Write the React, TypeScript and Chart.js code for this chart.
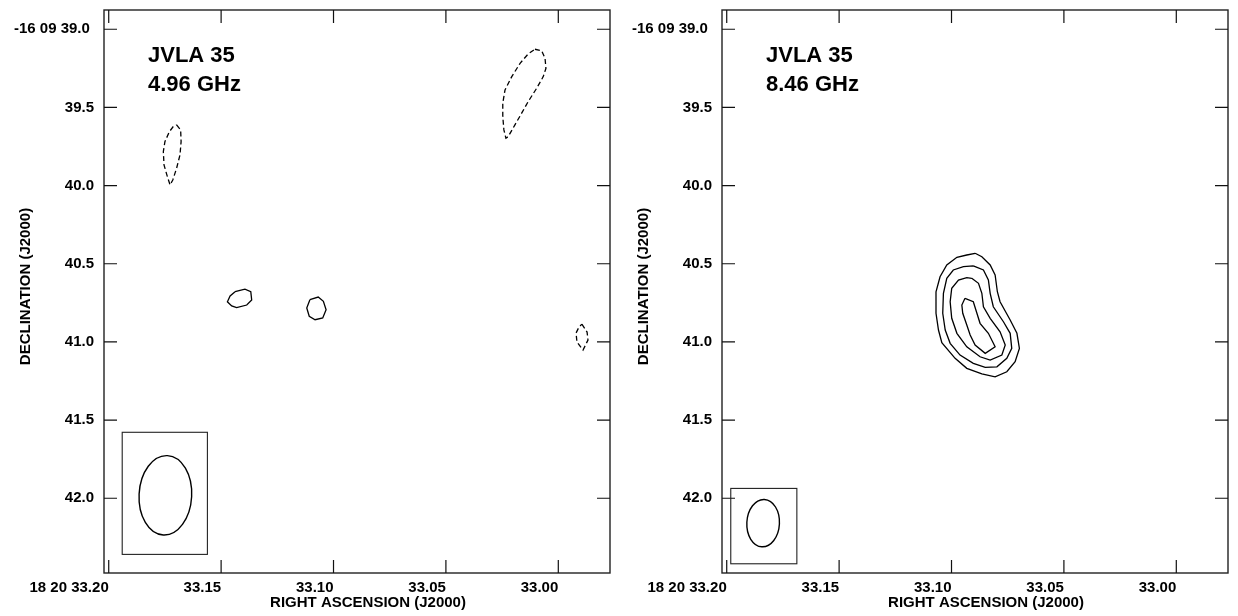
import React, { useEffect, useRef } from "react";
import { Chart, registerables } from "chart.js";

Chart.register(...registerables);

// ---- axes ----
const raTicks = [33.2, 33.15, 33.1, 33.05, 33.0];
const decTicks = [39.0, 39.5, 40.0, 40.5, 41.0, 41.5, 42.0];
const raMin = 32.977;
const raMax = 33.2021;
const decMin = 38.877;
const decMax = 42.478;
const raTitle = "RIGHT ASCENSION (J2000)";
const decTitle = "DECLINATION (J2000)";

// ---- 4.96 GHz contours (RA s, Dec arcsec) ----
const c5NegARa = [33.1698, 33.168, 33.1678, 33.1683, 33.1698, 33.1715, 33.1727, 33.1739, 33.1754, 33.1757, 33.175, 33.173, 33.1713];
const c5NegADec = [39.612, 39.644, 39.719, 39.804, 39.889, 39.964, 39.996, 39.943, 39.868, 39.783, 39.719, 39.655, 39.623];
const c5NegBRa = [33.0104, 33.0074, 33.0059, 33.0055, 33.0067, 33.0096, 33.0134, 33.0163, 33.0193, 33.0223, 33.0233, 33.0242, 33.0247, 33.0247, 33.0237, 33.0207, 33.017, 33.0134];
const c5NegBDec = [39.128, 39.137, 39.186, 39.25, 39.303, 39.377, 39.463, 39.537, 39.612, 39.687, 39.697, 39.644, 39.559, 39.473, 39.388, 39.303, 39.218, 39.158];
const c5PosCRa = [33.1438, 33.1394, 33.1368, 33.1364, 33.1386, 33.1431, 33.1453, 33.1472, 33.146];
const c5PosCDec = [40.679, 40.663, 40.679, 40.732, 40.764, 40.781, 40.77, 40.743, 40.706];
const c5PosDRa = [33.1105, 33.1068, 33.1045, 33.1033, 33.1048, 33.1082, 33.1108, 33.1119];
const c5PosDDec = [40.73, 40.713, 40.74, 40.794, 40.847, 40.858, 40.836, 40.783];
const c5NegERa = [32.9895, 32.9872, 32.9868, 32.989, 32.9917, 32.9921, 32.9908];
const c5NegEDec = [40.886, 40.937, 40.988, 41.052, 41.001, 40.943, 40.905];

// ---- 8.46 GHz contours ----
const c8Lev1Ra = [33.0895, 33.0865, 33.0828, 33.0806, 33.0796, 33.0784, 33.0739, 33.0709, 33.0698, 33.0717, 33.0754, 33.0806, 33.0865, 33.0932, 33.0984, 33.1043, 33.1058, 33.1069, 33.1069, 33.1051, 33.1021, 33.0976, 33.0932];
const c8Lev1Dec = [40.433, 40.455, 40.508, 40.572, 40.679, 40.743, 40.86, 40.945, 41.041, 41.127, 41.191, 41.223, 41.205, 41.169, 41.105, 41.005, 40.924, 40.817, 40.679, 40.583, 40.508, 40.459, 40.444];
const c8Lev2Ra = [33.0903, 33.0858, 33.0836, 33.0828, 33.0814, 33.0769, 33.0739, 33.0732, 33.0754, 33.0798, 33.085, 33.0903, 33.0962, 33.1006, 33.1028, 33.1039, 33.1036, 33.1021, 33.0992, 33.0947];
const c8Lev2Dec = [40.514, 40.54, 40.604, 40.689, 40.775, 40.871, 40.945, 41.041, 41.105, 41.159, 41.163, 41.137, 41.084, 41.009, 40.924, 40.817, 40.689, 40.593, 40.54, 40.519];
const c8Lev3Ra = [33.091, 33.088, 33.0865, 33.0858, 33.0828, 33.0784, 33.0761, 33.0776, 33.0828, 33.0873, 33.0932, 33.0976, 33.0999, 33.1006, 33.0999, 33.0969, 33.0932];
const c8Lev3Dec = [40.593, 40.625, 40.689, 40.775, 40.849, 40.935, 41.02, 41.084, 41.116, 41.095, 41.031, 40.945, 40.849, 40.743, 40.657, 40.604, 40.589];
const c8Lev4Ra = [33.094, 33.0903, 33.0887, 33.0873, 33.0836, 33.0806, 33.085, 33.0895, 33.0917, 33.0932, 33.095, 33.0954];
const c8Lev4Dec = [40.721, 40.743, 40.817, 40.881, 40.945, 41.031, 41.073, 41.02, 40.956, 40.892, 40.817, 40.764];

// ---- beams: [centre RA, centre Dec, half-size RA (s), half-size Dec (arcsec), tilt deg] ----
const beam5 = [33.1748, 41.981, 0.0117, 0.254, 3];
const beam5Box = [33.194, 33.1561, 41.578, 42.359];
const beam8 = [33.1838, 42.159, 0.00725, 0.1516, 3];
const beam8Box = [33.1982, 33.1688, 41.937, 42.419];

const FONT = "'Liberation Sans', Arial, Helvetica, sans-serif";

type Contour = { ra: number[]; dec: number[]; dashed: boolean };

function ring(ra: number[], dec: number[]) {
  const pts = ra.map((r, i) => ({ x: r, y: dec[i] }));
  pts.push({ x: ra[0], y: dec[0] });
  return pts;
}

function Panel(props: {
  left: number;
  yAxisWidth: number;
  rightPad: number;
  line1: string;
  line2: string;
  contours: Contour[];
  beam: number[];
  beamBox: number[];
}) {
  const ref = useRef<HTMLCanvasElement | null>(null);
  useEffect(() => {
    const canvas = ref.current!;
    const overlay = {
      id: "overlay",
      afterDatasetsDraw(chart: any) {
        const ctx = chart.ctx as CanvasRenderingContext2D;
        const a = chart.chartArea;
        const xs = chart.scales.x;
        const ys = chart.scales.y;
        ctx.save();
        // frame
        ctx.strokeStyle = "#222";
        ctx.lineWidth = 1.4;
        ctx.strokeRect(a.left, a.top, a.right - a.left, a.bottom - a.top);
        // inward ticks
        ctx.lineWidth = 1.2;
        ctx.strokeStyle = "#111";
        ctx.beginPath();
        const tl = 13;
        raTicks.forEach((v) => {
          const px = xs.getPixelForValue(v);
          ctx.moveTo(px, a.bottom);
          ctx.lineTo(px, a.bottom - tl);
          ctx.moveTo(px, a.top);
          ctx.lineTo(px, a.top + tl);
        });
        decTicks.forEach((v) => {
          const py = ys.getPixelForValue(v);
          ctx.moveTo(a.left, py);
          ctx.lineTo(a.left + tl, py);
          ctx.moveTo(a.right, py);
          ctx.lineTo(a.right - tl, py);
        });
        ctx.stroke();
        // beam box and ellipse
        const b = props.beamBox;
        const bx1 = xs.getPixelForValue(b[0]);
        const bx2 = xs.getPixelForValue(b[1]);
        const by1 = ys.getPixelForValue(b[2]);
        const by2 = ys.getPixelForValue(b[3]);
        ctx.lineWidth = 1.1;
        ctx.strokeStyle = "#222";
        ctx.strokeRect(Math.min(bx1, bx2), Math.min(by1, by2), Math.abs(bx2 - bx1), Math.abs(by2 - by1));
        const e = props.beam;
        const cx = xs.getPixelForValue(e[0]);
        const cy = ys.getPixelForValue(e[1]);
        const rx = Math.abs(xs.getPixelForValue(e[0] + e[2]) - cx);
        const ry = Math.abs(ys.getPixelForValue(e[1] + e[3]) - cy);
        ctx.lineWidth = 1.4;
        ctx.strokeStyle = "#000";
        ctx.beginPath();
        ctx.ellipse(cx, cy, rx, ry, (e[4] * Math.PI) / 180, 0, Math.PI * 2);
        ctx.stroke();
        // labels
        ctx.fillStyle = "#000";
        ctx.font = `bold 22px ${FONT}`;
        ctx.textAlign = "left";
        ctx.textBaseline = "alphabetic";
        ctx.fillText(props.line1, a.left + 44, 62);
        ctx.fillText(props.line2, a.left + 44, 90.5);
        // axis titles
        ctx.font = `bold 15px ${FONT}`;
        ctx.textAlign = "center";
        ctx.fillText(raTitle, (a.left + a.right) / 2 + 11, 607);
        ctx.save();
        ctx.translate(a.left - 74, (a.top + a.bottom) / 2 - 5);
        ctx.rotate(-Math.PI / 2);
        ctx.textBaseline = "alphabetic";
        ctx.fillText(decTitle, 0, 0);
        ctx.restore();
        ctx.restore();
      },
    };
    const chart = new Chart(canvas, {
      type: "scatter",
      data: {
        datasets: props.contours.map((c) => ({
          data: ring(c.ra, c.dec),
          showLine: true,
          borderColor: "#000",
          borderWidth: 1.3,
          borderDash: c.dashed ? [5, 3] : [],
          pointRadius: 0,
          pointHoverRadius: 0,
          fill: false,
          tension: 0,
        })),
      },
      options: {
        responsive: false,
        animation: false,
        devicePixelRatio: 1,
        layout: { padding: { left: 0, right: props.rightPad, top: 10, bottom: 0 } },
        plugins: { legend: { display: false }, tooltip: { enabled: false }, title: { display: false } },
        scales: {
          x: {
            type: "linear",
            reverse: true,
            min: raMin,
            max: raMax,
            grid: { display: false, drawTicks: false },
            border: { display: false },
            afterBuildTicks: (s: any) => {
              s.ticks = raTicks.map((v) => ({ value: v }));
            },
            afterFit: (s: any) => {
              s.height = 43;
              s.paddingLeft = 0;
              s.paddingRight = 0;
              s.paddingTop = 0;
              s.paddingBottom = 0;
            },
            ticks: {
              align: "end",
              padding: 6,
              maxRotation: 0,
              autoSkip: false,
              color: "#000",
              font: { family: FONT, size: 15, weight: "bold" },
              callback: (v: any) => (Math.abs(Number(v) - 33.2) < 1e-6 ? "18 20 33.20" : Number(v).toFixed(2)),
            },
          },
          y: {
            type: "linear",
            reverse: true,
            min: decMin,
            max: decMax,
            grid: { display: false, drawTicks: false },
            border: { display: false },
            afterBuildTicks: (s: any) => {
              s.ticks = decTicks.map((v) => ({ value: v }));
            },
            afterFit: (s: any) => {
              s.width = props.yAxisWidth;
              s.paddingLeft = 0;
              s.paddingRight = 0;
              s.paddingTop = 0;
              s.paddingBottom = 0;
            },
            ticks: {
              padding: 10,
              autoSkip: false,
              color: "#000",
              font: { family: FONT, size: 15, weight: "bold" },
              callback: (v: any) => (Math.abs(Number(v) - 39) < 1e-6 ? "-16 09 39.0 " : Number(v).toFixed(1)),
            },
          },
        },
      } as any,
      plugins: [overlay],
    });
    return () => chart.destroy();
  }, []);
  return (
    <canvas
      ref={ref}
      width={619}
      height={616}
      style={{ position: "absolute", left: props.left, top: 0, width: 619, height: 616, display: "block" }}
    />
  );
}

export default function App() {
  const contours5: Contour[] = [
    { ra: c5NegARa, dec: c5NegADec, dashed: true },
    { ra: c5NegBRa, dec: c5NegBDec, dashed: true },
    { ra: c5PosCRa, dec: c5PosCDec, dashed: false },
    { ra: c5PosDRa, dec: c5PosDDec, dashed: false },
    { ra: c5NegERa, dec: c5NegEDec, dashed: true },
  ];
  const contours8: Contour[] = [
    { ra: c8Lev1Ra, dec: c8Lev1Dec, dashed: false },
    { ra: c8Lev2Ra, dec: c8Lev2Dec, dashed: false },
    { ra: c8Lev3Ra, dec: c8Lev3Dec, dashed: false },
    { ra: c8Lev4Ra, dec: c8Lev4Dec, dashed: false },
  ];
  return (
    <div style={{ position: "fixed", left: 0, top: 0, width: 1238, height: 616, background: "#fff" }}>
      <Panel left={0} yAxisWidth={104} rightPad={9} line1="JVLA 35" line2="4.96 GHz" contours={contours5} beam={beam5} beamBox={beam5Box} />
      <Panel left={619} yAxisWidth={103} rightPad={10} line1="JVLA 35" line2="8.46 GHz" contours={contours8} beam={beam8} beamBox={beam8Box} />
    </div>
  );
}
